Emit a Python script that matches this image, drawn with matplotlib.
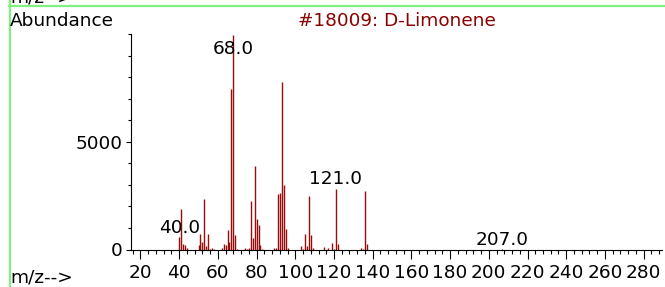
import matplotlib
matplotlib.use("Agg")
import matplotlib.pyplot as plt
from matplotlib.ticker import MultipleLocator, FixedLocator
from matplotlib.lines import Line2D

# ---- data ----
mz = [40, 41, 42, 43, 44,
      50, 51, 52, 53, 54, 55, 56, 57, 58,
      62, 63, 64, 65, 66, 67, 68, 69, 70,
      74, 75, 76, 77, 78, 79, 80, 81, 82, 83,
      89, 90, 91, 92, 93, 94, 95, 96,
      103, 104, 105, 106, 107, 108, 109,
      115, 117, 119, 120, 121, 122,
      134, 135, 136, 137,
      207]
abundance = [600, 1880, 270, 220, 50,
             220, 720, 360, 2330, 170, 720, 40, 50, 40,
             80, 250, 200, 900, 360, 7440, 9950, 680, 40,
             50, 40, 60, 2250, 530, 3890, 1400, 1140, 210, 40,
             70, 50, 2570, 2620, 7790, 2990, 950, 50,
             170, 40, 720, 160, 2490, 660, 50,
             100, 90, 290, 40, 2820, 250,
             50, 30, 2720, 270,
             20]
label_mz = [40, 68, 121, 207]
label_text = ["40.0", "68.0", "121.0", "207.0"]
label_offset_px = [4, -19, 5, 4]
x_ticks = [20, 40, 60, 80, 100, 120, 140, 160, 180, 200, 220, 240, 260, 280]
y_ticks = [0, 5000]
title = "#18009: D-Limonene"

W, H = 665, 287
DARK_RED = "#8b0000"
BAR_RED = "#990a0a"
GREEN = "#80f080"
FS = 13.3

plt.rcParams['font.family'] = ['DejaVu Sans']

fig = plt.figure(figsize=(W / 100, H / 100), dpi=100)
ax = fig.add_axes([131 / W, (H - 249.5) / H, (662 - 131) / W, (249.5 - 34) / H])

ax.vlines(mz, 0, abundance, colors=BAR_RED, linewidth=1.0)

ax.set_xlim(15.1, 289.5)
ax.set_ylim(0, 10000)
for s in ("top", "right"):
    ax.spines[s].set_visible(False)
for s in ("left", "bottom"):
    ax.spines[s].set_linewidth(0.8)
    ax.spines[s].set_color("black")

ax.xaxis.set_major_locator(FixedLocator(x_ticks))
ax.xaxis.set_minor_locator(MultipleLocator(4))
ax.yaxis.set_major_locator(FixedLocator(y_ticks))
ax.yaxis.set_minor_locator(MultipleLocator(1000))
ax.set_xticklabels([str(v) for v in x_ticks])
ax.set_yticklabels([str(v) for v in y_ticks])
ax.tick_params(axis="x", which="major", direction="out", length=6.5, width=0.8, pad=4, labelsize=FS)
ax.tick_params(axis="x", which="minor", direction="out", length=3.2, width=0.8)
ax.tick_params(axis="y", which="major", direction="out", length=3.8, width=0.8, pad=2, labelsize=FS)
ax.tick_params(axis="y", which="minor", direction="out", length=2.2, width=0.8)

# peak labels
lookup = dict(zip(mz, abundance))
for m, t, off in zip(label_mz, label_text, label_offset_px):
    ax.annotate(t, xy=(m, lookup[m]), xytext=(0, off * 0.72), textcoords="offset points",
                ha="center", va="baseline", fontsize=FS, color="black")

# texts in figure pixel coordinates
def fx(x):
    return x / W

def fy(y):
    return 1 - y / H

fig.text(fx(10), fy(26), "Abundance", fontsize=FS, ha="left", va="baseline")
fig.text(fx(397), fy(26), title, fontsize=FS, ha="center", va="baseline", color=DARK_RED)
fig.text(fx(10), fy(282), "m/z-->", fontsize=FS, ha="left", va="baseline")
# partially visible header text at the very top, as in the reference
fig.text(fx(10), fy(3), "m/z-->", fontsize=FS, ha="left", va="baseline")

# green frame lines
fig.add_artist(Line2D([fx(9), fx(665)], [fy(6), fy(6)], color=GREEN, linewidth=1.6,
                      transform=fig.transFigure))
fig.add_artist(Line2D([fx(9.5), fx(9.5)], [fy(0), fy(287)], color=GREEN, linewidth=1.6,
                      transform=fig.transFigure))

fig.savefig("out.png", dpi=100)
